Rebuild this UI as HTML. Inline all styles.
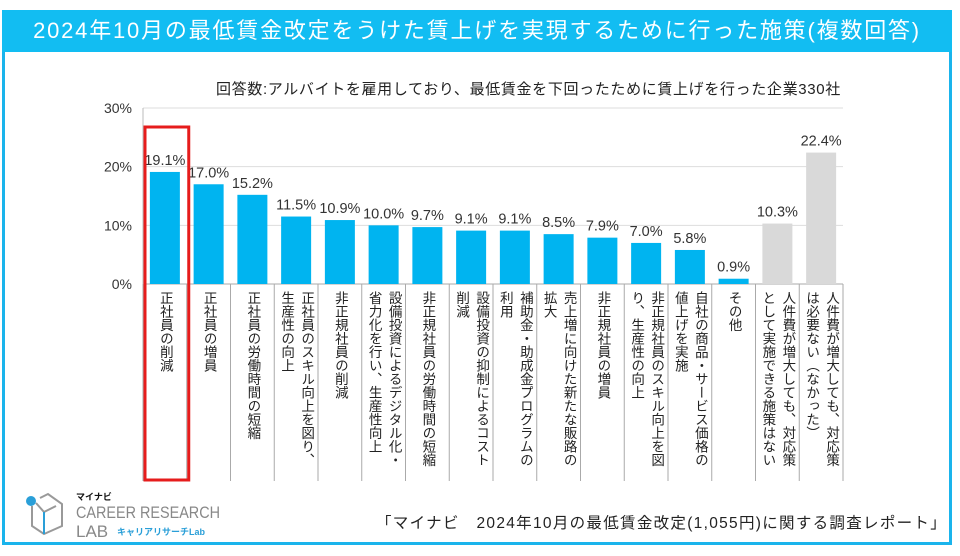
<!DOCTYPE html>
<html><head><meta charset="utf-8">
<style>
body{margin:0;width:960px;height:556px;background:#fff;position:relative;overflow:hidden;font-family:"Liberation Sans","Noto Sans CJK JP",sans-serif;}
#frame{position:absolute;left:2px;top:10px;width:944px;height:532px;border:3px solid #1ab4ec;border-top:none;}
#title{position:absolute;left:2px;top:10px;width:950px;height:42px;background:#12bdf2;color:#fff;font-size:22px;letter-spacing:1.8px;line-height:42px;text-align:center;}
#sub{position:absolute;left:216px;top:78px;font-size:15px;letter-spacing:0.65px;color:#222;white-space:nowrap;}
#foot{position:absolute;left:376px;top:511px;font-size:15.5px;letter-spacing:1.3px;color:#222;white-space:nowrap;}
.lab{position:absolute;writing-mode:vertical-rl;font-size:13.5px;line-height:14px;color:#222;top:291px;white-space:nowrap;}
#logo{position:absolute;left:22px;top:490px;}
</style></head><body>
<div id="frame"></div>
<div id="title">2024年10月の最低賃金改定をうけた賃上げを実現するために行った施策(複数回答)</div>
<div id="sub">回答数:アルバイトを雇用しており、最低賃金を下回ったために賃上げを行った企業330社</div>
<div id="foot">「マイナビ　2024年10月の最低賃金改定(1,055円)に関する調査レポート」</div>
<svg id="chart" width="960" height="556" style="position:absolute;left:0;top:0"></svg>
<div id="labels"></div>
<svg id="logo" width="210" height="50">
<circle cx="9" cy="11" r="5" fill="#2a9fd8"/>
<path d="M14 13 L22 22 L34 16 M10 16 L10 36 L22 44 L40 36 L40 14 L26 4 L18 8" fill="none" stroke="#999" stroke-width="2"/>
<path d="M22 22 L22 44" stroke="#2a9fd8" stroke-width="2"/>
<text x="54" y="10" font-size="9" font-weight="bold" fill="#111" font-family="Liberation Sans, Noto Sans CJK JP, sans-serif">マイナビ</text>
<text x="54" y="28" font-size="17" fill="#888" textLength="144" lengthAdjust="spacingAndGlyphs" font-family="Liberation Sans, sans-serif">CAREER RESEARCH</text>
<text x="54" y="47" font-size="17" fill="#888" font-family="Liberation Sans, sans-serif">LAB</text>
<text x="95" y="45" font-size="9" font-weight="bold" fill="#2a9fd8" font-family="Liberation Sans, Noto Sans CJK JP, sans-serif">キャリアリサーチLab</text>
</svg>
<script>
const categories=[["正社員の削減"],["正社員の増員"],["正社員の労働時間の短縮"],["正社員のスキル向上を図り、","生産性の向上"],["非正規社員の削減"],["設備投資によるデジタル化・","省力化を行い、生産性向上"],["非正規社員の労働時間の短縮"],["設備投資の抑制によるコスト","削減"],["補助金・助成金プログラムの","利用"],["売上増に向けた新たな販路の","拡大"],["非正規社員の増員"],["非正規社員のスキル向上を図","り、生産性の向上"],["自社の商品・サービス価格の","値上げを実施"],["その他"],["人件費が増大しても、対応策","として実施できる施策はない"],["人件費が増大しても、対応策","は必要ない（なかった）"]];
const values=[19.1,17.0,15.2,11.5,10.9,10.0,9.7,9.1,9.1,8.5,7.9,7.0,5.8,0.9,10.3,22.4];
const grayFlags=[0,0,0,0,0,0,0,0,0,0,0,0,0,0,1,1];
const yTicks=[0,10,20,30];
const NS="http://www.w3.org/2000/svg";
const svg=document.getElementById('chart');
const x0=143,x1=843,yBase=284,yTop=108,yMax=30;
const colW=(x1-x0)/categories.length;
const y=v=>yBase-(v/yMax)*(yBase-yTop);
const xc=i=>x0+colW*(i+0.5);
function mk(t,a){const e=document.createElementNS(NS,t);for(const k in a)e.setAttribute(k,a[k]);svg.appendChild(e);return e;}
yTicks.forEach(t=>{
  const g=mk('line',{x1:x0,x2:x1,y1:y(t),y2:y(t),stroke:t===0?'#aaa':'#ddd','stroke-width':1});
  
  
  const tx=mk('text',{x:132,y:y(t)+5,'text-anchor':'end','font-size':14,fill:'#333'});
  tx.textContent=t+'%';
  
  
});
const ax=mk('line',{x1:x0,x2:x0,y1:yTop,y2:yBase,stroke:'#bbb'});


for(let i=0;i<=categories.length;i++){
  const d=mk('line',{x1:x0+colW*i,x2:x0+colW*i,y1:yBase,y2:481,stroke:'#aaa'});
  
  
}
values.forEach((v,i)=>{
  const bw=30;
  const r=mk('rect',{x:xc(i)-bw/2,y:y(v),width:bw,height:yBase-y(v),fill:grayFlags[i]?'#d9d9d9':'#00b4f0'});
  
  
  const t=mk('text',{x:xc(i),y:y(v)-7,'text-anchor':'middle','font-size':14.5,fill:'#333'});
  t.textContent=v.toFixed(1)+'%';
  
  
});
const hl=mk('rect',{x:x0+2,y:127,width:colW,height:353,fill:'none',stroke:'#e61c1c','stroke-width':3});


const L=document.getElementById('labels');
categories.forEach((lines,i)=>{
  lines.forEach((s,j)=>{
    const d=document.createElement('div');
    d.className='lab';
    d.textContent=s;
    const off=lines.length===1?0:(j===0?10:-10);
    d.style.left=(xc(i)+off-7)+'px';
    
    
    L.appendChild(d);
  });
});
</script>
</body></html>
